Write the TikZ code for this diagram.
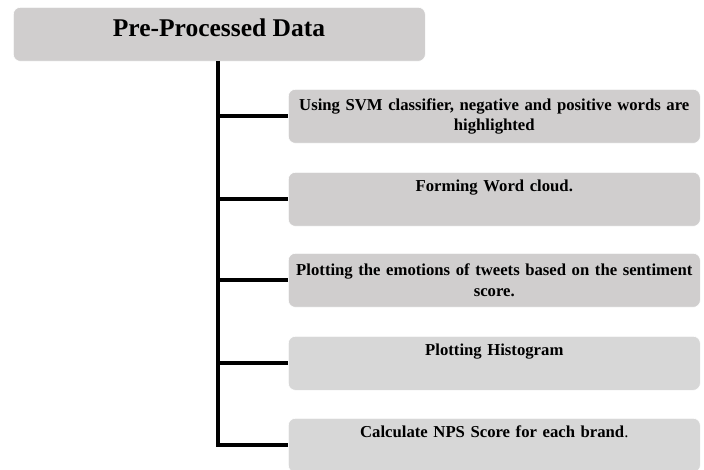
\documentclass[tikz,border=0pt]{standalone}
\usepackage{fontspec}
\setmainfont{Liberation Serif}
\definecolor{boxgray}{RGB}{208,206,206}
\definecolor{boxgrayL}{RGB}{215,215,215}
\begin{document}
\begin{tikzpicture}[x=1pt,y=1pt,
  topbox/.style={rectangle, rounded corners=7pt, fill=boxgray, draw=white, line width=0.6pt,
    minimum width=412pt, minimum height=54pt, anchor=north west, inner sep=0pt},
  childbox/.style={rectangle, rounded corners=7pt, fill=boxgray, draw=white, line width=0.6pt,
    minimum width=412pt, minimum height=54pt, anchor=north west, inner sep=0pt,
    text width=406pt, align=center, font=\bfseries\fontsize{16.7}{20.5}\selectfont},
  conn/.style={line width=4pt, draw=black}]
\useasboundingbox (0,0) rectangle (704,-470);
\node[topbox] (top) at (13,-7) {};
\node[font=\bfseries\fontsize{25.5}{30}\selectfont] (title) at (219,-27.5) {Pre-Processed Data};
\node[childbox] (b1) at (288,-89) {Using SVM classifier, negative and positive words are\\ highlighted};
\node[childbox] (b2) at (288,-172) {Forming Word cloud.\\ \strut};
\node[childbox] (b3) at (288,-253) {Plotting the emotions of tweets based on the sentiment\\ score.};
\node[childbox, fill=boxgrayL] (b4) at (288,-336) {Plotting Histogram\\ \strut};
\node[childbox, fill=boxgrayL] (b5) at (288,-418) {Calculate NPS Score for each brand{\mdseries.}\\ \strut};
\coordinate (trunk) at (217.5,-61);
\draw[conn] (trunk) |- (b5.west);
\draw[conn] (trunk |- b1.west) -- (b1.west);
\draw[conn] (trunk |- b2.west) -- (b2.west);
\draw[conn] (trunk |- b3.west) -- (b3.west);
\draw[conn] (trunk |- b4.west) -- (b4.west);
\end{tikzpicture}
\end{document}
